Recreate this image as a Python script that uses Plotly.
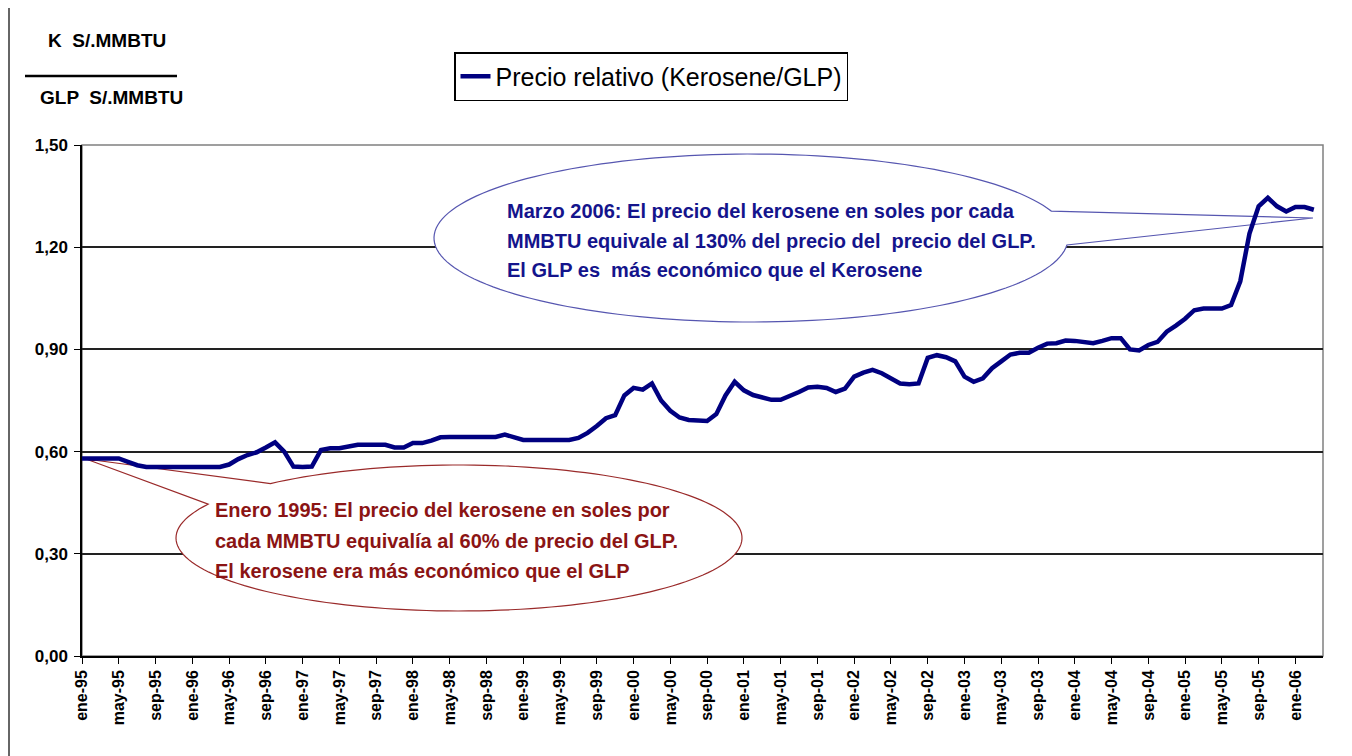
import numpy as np
import plotly.graph_objects as go

# --- data (monthly, ene-95 .. mar-06) ---
meses = ["ene", "feb", "mar", "abr", "may", "jun", "jul", "ago", "sep", "oct", "nov", "dic"]
precio_relativo = [
    0.580, 0.580, 0.580, 0.580, 0.580, 0.570, 0.560, 0.555, 0.555, 0.555, 0.555, 0.555,  # 1995
    0.555, 0.555, 0.555, 0.555, 0.562, 0.578, 0.590, 0.598, 0.612, 0.627, 0.600, 0.556,  # 1996
    0.555, 0.556, 0.605, 0.610, 0.610, 0.615, 0.620, 0.620, 0.620, 0.620, 0.612, 0.612,  # 1997
    0.625, 0.625, 0.632, 0.642, 0.643, 0.643, 0.643, 0.643, 0.643, 0.643, 0.650, 0.643,  # 1998
    0.634, 0.634, 0.634, 0.637, 0.635, 0.634, 0.640, 0.655, 0.675, 0.698, 0.707, 0.765,  # 1999
    0.787, 0.782, 0.800, 0.750, 0.720, 0.700, 0.693, 0.693, 0.690, 0.710, 0.765, 0.805,  # 2000
    0.780, 0.766, 0.760, 0.752, 0.752, 0.762, 0.775, 0.788, 0.790, 0.787, 0.775, 0.785,  # 2001
    0.820, 0.832, 0.840, 0.830, 0.815, 0.800, 0.798, 0.800, 0.875, 0.883, 0.877, 0.865,  # 2002
    0.820, 0.805, 0.815, 0.845, 0.865, 0.885, 0.890, 0.890, 0.905, 0.917, 0.918, 0.926,  # 2003
    0.925, 0.920, 0.918, 0.925, 0.933, 0.933, 0.900, 0.897, 0.913, 0.922, 0.952, 0.970,  # 2004
    0.990, 1.015, 1.020, 1.020, 1.020, 1.030, 1.100, 1.240, 1.320, 1.345, 1.320, 1.305,  # 2005
    1.318, 1.318, 1.310,                                                                  # 2006
]
periodos = [f"{meses[i % 12]}-{(95 + i // 12) % 100:02d}" for i in range(len(precio_relativo))]
x_idx = list(range(len(precio_relativo)))

y_ticks = [0.0, 0.3, 0.6, 0.9, 1.2, 1.5]
y_tick_labels = ["0,00", "0,30", "0,60", "0,90", "1,20", "1,50"]
x_ticks = x_idx[::4]
x_tick_labels = periodos[::4]

nota_2006 = ["Marzo 2006: El precio del kerosene en soles por cada",
             "MMBTU equivale al 130% del precio del \u00a0precio del GLP.",
             "El GLP es \u00a0más económico que el Kerosene"]
nota_1995 = ["Enero 1995: El precio del kerosene en soles por",
             "cada MMBTU equivalía al 60% de precio del GLP.",
             "El kerosene era más económico que el GLP"]

# --- page geometry (page pixels; the figure div sits 8px in from the page corner) ---
OFF = 8
W, H = 1352 - OFF, 756 - OFF
L, R, T, B = 82, 1323, 145, 656
XMAX = 135
YMAX = 1.5
FONT = "Arial, Liberation Sans, sans-serif"


def to_data(x, y):
    return (x - L) / (R - L) * XMAX, (B - y) / (B - T) * YMAX


def to_paper(x, y):
    return (x - L) / (R - L), (B - y) / (B - T)


def callout_path(cx, cy, rx, ry, t_a, t_b, tip):
    ts = np.linspace(t_a, t_b, 160)
    pts = [to_data(cx + rx * np.cos(t), cy + ry * np.sin(t)) for t in ts]
    pts.append(to_data(*tip))
    return "M " + " L ".join(f"{a:.4f},{b:.4f}" for a, b in pts) + " Z"


fig = go.Figure()
fig.add_trace(go.Scatter(x=x_idx, y=precio_relativo, mode="lines",
                         line=dict(color="#000080", width=4.5),
                         name="Precio relativo (Kerosene/GLP)"))

shapes = [
    # plot area frame
    dict(type="rect", xref="paper", yref="paper", x0=0, x1=1, y0=0, y1=1,
         line=dict(color="#808080", width=1.5), layer="below"),
    # fraction bar in the unit label
    dict(type="line", xref="paper", yref="paper",
         x0=to_paper(25, 76)[0], x1=to_paper(177, 76)[0],
         y0=to_paper(25, 76)[1], y1=to_paper(25, 76)[1],
         line=dict(color="black", width=2.5)),
    # callouts
    dict(type="path", xref="x", yref="y", layer="between",
         path=callout_path(751, 238, 317, 84, 0.083, 2 * np.pi - 0.326, (1313, 218)),
         fillcolor="white", line=dict(color="#5656b0", width=1.2)),
    dict(type="path", xref="x", yref="y", layer="between",
         path=callout_path(459, 538, 283, 73, -2.30, 2 * np.pi - 2.66, (86, 459)),
         fillcolor="white", line=dict(color="#9a2a2a", width=1.2)),
]
# outer chart frame: left and right edges
for xp in (9, 1348):
    xa = to_paper(xp, 0)[0]
    shapes.append(dict(type="line", xref="paper", yref="paper", x0=xa, x1=xa,
                       y0=to_paper(0, 780)[1], y1=to_paper(0, -20)[1],
                       line=dict(color="#333333", width=1.5), layer="below"))

annotations = []
for i, txt in enumerate(nota_2006):
    xd, yd = to_data(505, 211 + 29.5 * i)
    annotations.append(dict(x=xd, y=yd, xref="x", yref="y", text=txt, showarrow=False,
                            xanchor="left", yanchor="middle",
                            font=dict(family=FONT, size=20, color="#14148c", weight="bold")))
for i, txt in enumerate(nota_1995):
    xd, yd = to_data(213, 510 + 30.5 * i)
    annotations.append(dict(x=xd, y=yd, xref="x", yref="y", text=txt, showarrow=False,
                            xanchor="left", yanchor="middle",
                            font=dict(family=FONT, size=20, color="#8b1414", weight="bold")))
for txt, xp, yp in [("K \u00a0S/.MMBTU", 46, 40), ("GLP \u00a0S/.MMBTU", 38, 97)]:
    xa, ya = to_paper(xp, yp)
    annotations.append(dict(x=xa, y=ya, xref="paper", yref="paper", text=txt, showarrow=False,
                            xanchor="left", yanchor="middle",
                            font=dict(family=FONT, size=19, color="black", weight="bold")))

lx, ly = to_paper(454, 52)
fig.update_layout(
    width=W, height=H,
    margin=dict(l=L - OFF, r=W + OFF - R, t=T - OFF, b=H + OFF - B),
    paper_bgcolor="white", plot_bgcolor="white",
    showlegend=True,
    legend=dict(x=lx, y=ly, xanchor="left", yanchor="top",
                bordercolor="black", borderwidth=1.5, bgcolor="white",
                font=dict(family=FONT, size=25, color="black")),
    shapes=shapes, annotations=annotations,
)
fig.update_xaxes(range=[0, XMAX], tickmode="array", tickvals=x_ticks, ticktext=x_tick_labels,
                 tickangle=-90, ticks="outside", ticklen=6, tickcolor="black",
                 tickfont=dict(family=FONT, size=16, color="black", weight="bold"),
                 showgrid=False, zeroline=False, showline=True, linecolor="black", linewidth=1.5)
fig.update_yaxes(range=[0, YMAX], tickmode="array", tickvals=y_ticks, ticktext=y_tick_labels,
                 ticks="outside", ticklen=6, tickcolor="black", ticklabelstandoff=3,
                 tickfont=dict(family=FONT, size=17, color="black", weight="bold"),
                 showgrid=True, gridcolor="#222222", gridwidth=1.5,
                 zeroline=False, showline=True, linecolor="black", linewidth=1.5)

fig.write_html("out.html")
